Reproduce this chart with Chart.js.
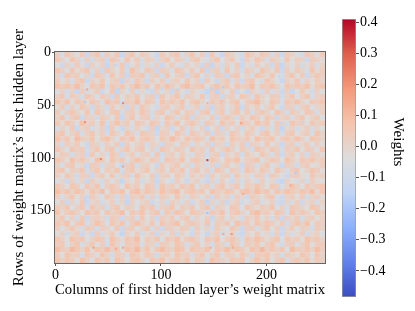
<!DOCTYPE html>
<html>
<head>
<meta charset="utf-8">
<script src="https://cdn.jsdelivr.net/npm/chart.js@4"></script>
<style>
    body { margin: 0; background: #fff; }
    #wrap { position: relative; width: 415px; height: 311px; overflow: hidden; }
    canvas { position: absolute; top: 0; }
    #heat { left: 0; }
    #bar { left: 330px; }
</style>
</head>
<body>
<div id="wrap">
    <canvas id="heat" width="330" height="311"></canvas>
    <canvas id="bar" width="85" height="311"></canvas>
</div>
<script>
// the real matrix is 200 x 256, too fine to read: these are block estimates by eye, in hundredths
const blockWeights = [
    [ 3,-4, 5, 1,-2, 4,-6, 2, 6,-5, 3,-1, 5,-7, 2, 6,-2, 4, 1,-3,-6, 4,-1, 3, 5,-4, 1, 6,-2, 3,-6, 5,-3,-7, 4, 1,-3,-5, 6, 2,-1, 5, 3,-4, 2,-6, 4, 1,-3,-5, 5, 2,-2, 4],
    [ 5, 1,-3, 6, 2,-4, 3,-5, 1, 4,-6, 5, 2,-3, 6,-1, 4,-4, 3, 1,-5, 2, 6,-2, 4, 1,-5, 3, 5,-1,-4, 2, 6,-3, 1, 5,-2,-6, 3,-1, 6, 2,-4, 4, 1,-3, 5,-2, 3, 1,-6, 4, 2,-1],
    [-2,-6, 2,-4, 4,-1,-7, 3,-3, 2,-8, 1,-4, 5,-6,-2, 3,-5, 0,-4, 2,-7,-1, 4,-3,-5, 2,-2, 1,-6, 3,-8, 0,-5, 2,-3, 4,-7,-1,-4, 3,-2, 1,-6, 4,-8, 0,-3, 2,-5,-1, 3,-4, 1],
    [ 6, 2,-3, 5,-1, 3, 6,-4, 2,-6, 5, 1,-2, 4,-5, 7, 1,-3, 5, 2,-6, 3, 1,-4, 6, 2,-1, 4,-3, 5,-7, 1, 3,-4, 6,-2, 2,-5, 4, 1,-3, 6, 2,-1, 5,-6, 3,-2, 4, 1,-4, 6,-1, 3],
    [ 1,-5, 6, 2, 4,-3, 1,-6, 5, 2,-4, 6,-1, 3,-7, 4, 2, 6,-4, 1, 3,-5, 5,-2, 1, 4,-6, 2, 6,-3, 1,-5, 4, 2,-6, 3, 5,-2, 1,-4, 6, 3,-1, 5,-3,-5, 2, 6,-2, 4,-6, 1, 5, 2],
    [ 4,-2, 1,-5, 3, 6,-7, 2,-1, 5,-3, 1, 4,-8, 2,-4, 5, 1,-6, 3,-2, 4,-5, 1, 3,-3, 5,-1, 2,-6, 4,-2,-7, 1, 5,-4, 2,-6, 3, 5,-2,-4, 6, 1,-3,-7, 2,-1, 5,-4, 2,-2, 4, 1],
    [ 7, 3, 6, 2, 8, 1,-3, 6, 3, 7,-4, 5, 2, 6,-1, 4, 8, 2, 5,-2, 6, 1, 7, 3,-1, 5, 8, 2, 4, 6,-3, 3, 7, 1, 5,-1, 6, 2, 4, 8,-2, 5, 3, 7, 1,-3, 6, 2, 5, 3, 7,-1, 4, 6],
    [-3, 2,-5, 1,-7, 3,-4,-1, 4,-6,-2, 5,-8, 1,-3, 3,-5, 0,-4,-6, 2,-3, 1,-7, 4,-2,-5, 2,-1,-4,-8, 3,-9, 1,-3, 4,-6,-2,-7, 2,-1,-5, 3,-4, 0,-6, 2,-7,-3, 4,-1,-5, 2,-2],
    [ 2, 5,-4, 3, 1,-5, 6, 2,-3, 4, 1,-6, 5,-2, 3, 1, 6,-3, 2, 4,-6, 5,-1, 2, 6,-4, 3, 1,-2, 5,-5, 2, 4,-6, 1, 3,-3, 5, 2,-4, 6, 1,-2, 4, 3,-5, 1, 5,-3, 2, 6,-4, 1, 3],
    [ 6, 1, 7,-2, 5, 3,-1, 6, 2,-4, 7, 3, 5,-5, 4, 2, 8,-1, 5, 3,-4, 6, 2, 5, 1, 7,-2, 4, 6, 1,-3, 5, 2, 7,-1, 4, 6,-3, 3, 5, 8, 1,-2, 6, 3,-4, 5, 2, 7, 1,-3, 5, 3, 6],
    [-1, 4,-5, 2,-3, 5, 1,-6, 3, 0,-5, 4,-2, 1,-6, 3,-4, 5, 1,-3,-5, 2, 4,-2, 1, 5,-4, 0, 3,-5, 2,-7, 1, 4,-3, 0, 5,-6, 2,-1, 4,-3, 1, 5,-2,-6, 3, 1,-4, 2, 5,-3, 0, 2],
    [ 4,-3, 2, 6, 1,-2, 5,-4, 6, 1,-3, 4, 6,-5, 2, 4,-1, 6, 2,-4, 3, 5,-3, 1, 6,-2, 4, 2,-5, 3, 6,-4, 1, 5,-3, 2, 6,-1, 4,-4, 2, 5, 1,-3, 6, 2,-5, 4, 1,-2, 5, 3,-4, 2],
    [ 1, 6,-4, 3, 5,-6, 2, 1,-5, 4, 2,-3, 5,-7, 1, 6,-3, 2, 4,-5, 1,-2, 6, 3,-4, 1, 5,-6, 2, 0,-3, 4,-6, 2, 5, 1,-5, 3,-1, 6, 3,-3, 5, 2,-6, 1, 4,-4, 2, 6,-2, 1, 5,-3],
    [ 5,-1, 6, 2,-3, 7, 1, 4,-2, 6,-5, 2, 7, 1, 4,-3, 5, 2,-1, 6, 3,-4, 5, 1, 7,-2, 3, 6, 1,-4, 5, 2,-3, 6, 1, 4,-2, 5, 3,-1, 7, 2, 5,-3, 4, 1,-5, 6, 2, 3,-2, 5, 1, 4],
    [-4, 1,-2, 4,-6, 0, 3,-5,-1, 2,-7, 3,-3,-6, 1,-4, 2,-1,-5, 3,-8, 0, 2,-6,-1, 4,-4, 1,-3, 2,-7,-2, 3,-6, 1,-3, 2,-5, 0, 4,-2,-6, 1,-4, 3,-8, 0, 2,-5,-1, 3,-4, 1,-2],
    [ 3, 6,-2, 1, 5,-4, 2, 6,-1, 3,-5, 5, 1,-3, 6, 2,-4, 5, 3, 1,-6, 4, 2,-2, 6, 1,-4, 5, 2,-1, 4,-6, 3, 1,-4, 6, 2,-2, 5, 1,-3, 4, 6,-1, 2,-5, 3, 5,-2, 1, 4,-4, 6, 1],
    [ 7, 2, 5,-1, 8, 3, 1, 6,-2, 4, 7, 1,-3, 5, 2, 7,-1, 4, 6, 2,-3, 5, 1, 8, 3,-1, 6, 2, 5, 3,-4, 7, 1, 4,-2, 6, 3, 1, 5,-1, 7, 2, 4, 6,-2, 3, 5, 1, 7, 2,-3, 6, 4, 1],
    [ 2,-5, 3, 0, 4,-2,-6, 3, 1,-4, 2,-1, 4,-7, 3,-2, 1, 4,-5, 2, 0,-6, 3, 1,-3, 4, 2,-5, 1,-2, 3,-6, 2, 0,-5, 3,-1, 4,-6, 2, 1,-3, 5,-2, 1,-7, 2, 3,-4, 0, 4,-3, 2,-1],
    [ 5, 1,-3, 6, 2, 4,-5, 1, 6,-2, 3, 5,-4, 2, 6,-1, 3, 5,-2, 1,-5, 6, 3,-1, 4, 2,-3, 6, 1, 3,-4, 5,-2, 1, 6, 2,-3, 4, 1,-5, 6, 3,-1, 5, 2,-4, 3, 1, 6,-2, 4, 2,-3, 5],
    [-1, 4, 2,-5, 1, 3,-6, 5,-2, 1,-4, 6, 2,-6, 0, 4,-3, 1, 3,-4, 5,-5, 1, 3,-2, 4,-1,-4, 3, 2,-5, 1, 4,-6, 2,-1, 3,-5, 4, 0,-2, 5, 1,-4, 3,-6, 1, 4,-3, 2,-5, 3, 1,-1],
    [ 6, 3,-1, 7, 2, 5, 1,-3, 7, 4,-2, 6, 1, 5,-3, 2, 7, 3,-1, 5, 2,-4, 6, 3, 1, 7,-2, 4, 5, 1,-4, 6, 2,-2, 5, 3, 7,-1, 2, 4, 6,-3, 1, 5, 3,-2, 7, 2,-1, 5, 3, 6, 1, 4],
    [ 1,-4, 3, 5,-2, 0,-6, 4, 2,-5, 1, 3,-3,-7, 2, 5,-4, 1, 3,-2,-6, 4,-1, 2, 5,-3, 1,-5, 3, 0,-4, 2,-6, 1, 4,-2, 0,-6, 3, 2,-4, 1, 5,-3, 0,-7, 3, 1,-5, 2, 4,-2,-1, 3],
    [ 4, 6,-2, 3, 1, 5,-5, 2, 6,-3, 4, 1, 6,-4, 3, 5,-1, 2, 6,-3, 1, 4,-2, 5, 1, 6,-3, 2, 5,-1, 3,-5, 6, 2,-3, 4, 1,-4, 6, 3,-1, 5, 2,-3, 6, 1,-4, 3, 5,-2, 1, 6, 3,-1],
    [ 2,-3, 5, 1,-5, 3, 2,-6, 1, 4,-2, 5,-4, 1, 3,-5, 6, 0,-2, 4,-6, 1, 3,-3, 5, 1,-4, 3,-1, 2,-6, 4,-2, 1, 3,-5, 5,-1, 0,-4, 3, 2,-5, 4, 1,-3,-6, 2, 4,-1,-3, 5, 0, 2],
    [-3, 0,-6, 2,-4, 1,-7, 3,-1,-5, 2,-3, 1,-8, 0,-2, 3,-5,-1, 2,-7, 1,-3,-5, 3,-1,-6, 0, 2,-4,-7, 1,-5, 3,-2,-6, 1,-4, 2,-1,-5, 3,-3, 0,-6,-8, 2,-2,-4, 1,-5, 3,-1,-2],
    [ 5, 2,-2, 6, 3,-3, 5, 1, 6,-4, 3, 5, 2,-3, 6, 1, 4,-2, 5, 3,-5, 6, 1, 4,-1, 5, 2, 6,-3, 1, 4,-4, 3, 6,-1, 2, 5,-3, 4, 1, 6, 2,-2, 5, 3,-4, 1, 6, 2,-3, 5, 1, 4, 6],
    [ 8, 3, 6, 1, 7, 4,-1, 6, 2, 8,-2, 5, 3, 7,-2, 5, 8, 1, 6, 3, 0, 7, 2, 5, 8,-1, 4, 6, 2, 5,-2, 7, 3, 1, 6, 4,-1, 5, 7, 2, 8, 3, 5,-1, 6, 2, 7, 4, 1, 6, 3, 8,-1, 5],
    [ 3,-4, 1, 5,-2, 2,-6, 4, 0,-3, 5, 1,-5, 2,-6, 3, 1, 5,-4, 2,-5, 3, 1,-2, 5, 0,-4, 3, 1,-3, 2,-6, 4,-1, 2,-5, 3, 0,-6, 4, 1,-2, 3, 5,-4,-6, 1, 3,-2, 4,-5, 1, 3,-1],
    [-2, 3,-6, 1,-3, 4,-7, 0, 2,-5,-1, 3,-4, 1,-8, 2,-3, 0, 3,-6,-2, 1,-5, 3, 0,-4, 2,-6,-1, 3,-7, 1,-4, 2,-6, 0, 3,-5,-2, 1, 4,-4,-1, 2,-5,-7, 1,-3, 3,-6, 0, 2,-4, 1],
    [ 4, 1, 6,-3, 2, 5,-4, 6, 1, 3,-5, 2, 6,-2, 4, 1,-3, 6, 2, 5,-4, 1, 3, 6,-2, 4, 1, 5,-3, 2, 6,-5, 3, 1,-2, 5, 4,-3, 6, 2,-1, 4, 1, 6,-3, 2,-5, 5, 3, 1,-2, 6, 4,-1],
    [ 7,-1, 4, 6, 2,-2, 7, 3, 5,-3, 6, 1, 4, 8,-3, 5, 2, 7,-1, 3, 6,-4, 5, 1, 7, 3,-2, 6, 4, 1,-4, 5, 2, 7,-2, 3, 6, 1,-3, 5, 8, 2, 4,-1, 6, 3,-4, 7, 1, 5, 2,-2, 6, 3],
    [ 1, 5,-3, 2,-5, 4,-6, 1, 3, 0,-5, 4, 2,-6, 1, 3,-4, 5,-2, 1,-6, 3, 0, 4,-3, 2, 5,-4, 1,-2, 3,-7, 1, 4,-3, 2,-1,-5, 3, 0, 5,-2, 1,-4, 3,-6, 2, 0, 4,-5, 1, 3,-2, 2],
    [ 5, 2, 7,-2, 4, 6,-4, 1, 7, 3,-3, 5, 1, 6,-4, 3, 7, 2,-1, 5,-3, 6, 1, 4, 7,-2, 3, 5, 2,-1, 6,-4, 3, 1, 5,-3, 7, 2, 4,-1, 6, 1, 5, 3,-2, 4,-5, 2, 6, 1, 7,-3, 4, 2],
    [ 3,-3, 1, 5, 0,-4, 4, 2,-5, 3, 1,-2, 5,-6, 2, 4,-3, 1, 5,-4, 2,-6, 3, 1,-1, 4, 2,-5, 3,-2, 1,-5, 4, 0,-3, 5, 1,-6, 2, 3,-4, 1, 5,-2, 3,-6, 0, 4,-3, 2, 1,-5, 4, 1],
    [-2, 2,-5, 0, 3,-6,-1,-7, 3,-4, 0, 4,-3,-8, 1,-2, 4,-5,-1, 2,-6, 0,-3, 3,-5, 1,-2,-6, 2,-3,-7, 0, 3,-5,-1, 2,-4,-7, 1,-2, 4,-3, 0,-5, 2,-7, 1,-4,-1, 3,-5, 0, 2,-3],
    [ 6, 2,-2, 7, 3, 5,-3, 1, 6, 4,-4, 7, 2,-1, 5, 3, 8,-2, 4, 1, 6,-3, 5, 2, 7,-1, 4, 6, 1,-3, 5, 2, 7,-2, 3, 6, 1,-4, 5, 2, 7, 4,-1, 3, 6,-3, 5, 1, 4,-2, 7, 3, 5, 1],
    [ 3, 5,-3, 2, 6,-4, 1, 5,-2, 3,-5, 6, 1,-3, 4, 2, 5,-4, 3, 1,-5, 4, 2,-1, 6, 3,-4, 1, 5,-2, 2,-5, 4, 1,-4, 6, 2,-3, 4, 1, 5,-2, 3, 6,-1,-5, 2, 4,-3, 1, 6,-2, 3, 4],
    [ 8, 4, 2, 9, 5, 1, 7,-1, 6, 3, 8, 2, 5,-2, 7, 4, 9, 1, 6,-1, 5, 8, 3, 1, 7, 5,-1, 6, 4, 2, 7,-2, 5, 3, 8, 1, 6, 4,-1, 7, 3, 9, 2, 5, 1, 6,-3, 8, 4, 2, 6, 1, 8, 3],
    [ 4,-2, 6, 1, 3,-4, 5, 2,-3, 6, 1,-5, 4, 2,-4, 6, 3,-1, 5, 2,-5, 1, 4,-2, 6, 1, 3,-4, 2, 5,-3, 1, 6,-4, 3, 2,-2, 5, 1,-5, 4, 3, 6,-1, 2,-5, 4, 1,-2, 6, 3,-3, 5, 1],
    [ 6, 1, 5, 3,-2, 7, 2,-3, 6, 1, 5,-4, 7, 3,-2, 4, 6, 1,-3, 5, 2, 7,-1, 3, 5, 1, 6,-2, 4, 2,-4, 7, 3, 1,-1, 5, 4, 6,-3, 2, 7, 1, 5,-2, 3, 6,-4, 2, 5, 1, 6,-1, 4, 2]
];

// single cells that stand out from the noise
const hotCols = [64,28,28,60,70,87,101,116,64,57,30,148,159,142,212,223,176,214,235,159,144,43,28,64,64,35,28,43,36,64,57,98,111,144,228,212,223,144,144,144,167,159,178,167,147,168,223,184];
const hotRows = [48,66,47,35,35,35,35,35,73,12,35,34,33,22,23,35,67,67,66,48,48,101,108,108,114,114,139,134,185,185,186,142,152,102,114,129,126,141,152,164,172,172,134,129,185,185,142,141];
const hotValues = [22,20,-18,-15,-12,-12,-14,-15,-14,-12,15,-16,-18,-12,-12,-14,16,-14,-12,-13,12,22,-14,14,-14,-12,-15,-13,16,15,14,-10,-11,34,-18,-14,14,-16,-20,-13,18,14,14,-13,13,14,-12,-9];

const numCols = 256;
const numRows = 200;
const xTicks = [0, 100, 200];
const yTicks = [0, 50, 100, 150];
const barTicks = [-0.4, -0.3, -0.2, -0.1, 0, 0.1, 0.2, 0.3, 0.4];
const barMin = -0.484;
const barMax = 0.41;
const coolwarm = [[59,76,192],[98,130,234],[141,176,254],[192,212,245],[221,221,221],[245,196,173],[244,152,122],[222,96,77],[180,4,38]];

const serif = "'Liberation Serif', 'Times New Roman', serif";

function weightColor(v) {
    const t = Math.min(1, Math.max(0, (v - barMin) / (barMax - barMin))) * (coolwarm.length - 1);
    const i = Math.min(coolwarm.length - 2, Math.floor(t));
    const f = t - i;
    const c = coolwarm[i].map((a, k) => Math.round(a + (coolwarm[i + 1][k] - a) * f));
    return `rgb(${c[0]},${c[1]},${c[2]})`;
}

const blockPoints = [];
blockWeights.forEach((row, r) => {
    row.forEach((v, c) => {
        blockPoints.push({
            x: (c + 0.5) * numCols / row.length - 0.5,
            y: (r + 0.5) * numRows / blockWeights.length - 0.5,
            // the blue side of the map needs a stronger push than the red one to read the same
            v: (v < 0 ? v * 1.6 : v * 1.1) / 100,
        });
    });
});
const hotPoints = hotCols.map((c, i) => ({ x: c, y: hotRows[i], v: hotValues[i] / 100 }));

const framePlugin = {
    id: "frame",
    afterDatasetsDraw(chart) {
        const a = chart.chartArea;
        const ctx = chart.ctx;
        ctx.save();
        ctx.strokeStyle = "#666";
        ctx.lineWidth = 1;
        ctx.strokeRect(a.left - 0.5, a.top - 0.5, a.right - a.left + 1, a.bottom - a.top + 1);
        ctx.restore();
    },
};

new Chart(document.getElementById("heat").getContext("2d"), {
    type: "scatter",
    plugins: [framePlugin],
    data: {
        datasets: [
            {
                data: hotPoints,
                order: 0,
                pointStyle: "rect",
                pointRadius: 1.5,
                pointBorderWidth: 0,
                pointBackgroundColor: (c) => weightColor(c.raw ? c.raw.v : 0),
            },
            {
                data: blockPoints,
                order: 1,
                pointStyle: "rect",
                pointRadius: 3.95,
                pointBorderWidth: 0,
                pointBackgroundColor: (c) => weightColor(c.raw ? c.raw.v : 0),
            },
        ],
    },
    options: {
        responsive: false,
        animation: false,
        layout: { padding: { left: 10, top: 52, right: 5, bottom: 12 } },
        plugins: { legend: { display: false }, tooltip: { enabled: false } },
        scales: {
            x: {
                type: "linear",
                min: -0.5,
                max: numCols - 0.5,
                afterBuildTicks: (s) => { s.ticks = xTicks.map((v) => ({ value: v })); },
                afterFit: (s) => { s.height = 36; },
                grid: { drawOnChartArea: false, drawTicks: true, tickLength: 3, color: "#555" },
                border: { display: false },
                ticks: { color: "#000", padding: 1, maxRotation: 0, font: { family: serif, size: 14 } },
                title: {
                    display: true,
                    text: "Columns of first hidden layer\u2019s weight matrix",
                    color: "#000",
                    padding: { top: 0, bottom: 0 },
                    font: { family: serif, size: 15.2 },
                },
            },
            y: {
                type: "linear",
                reverse: true,
                min: -0.5,
                max: numRows - 0.5,
                afterBuildTicks: (s) => { s.ticks = yTicks.map((v) => ({ value: v })); },
                afterFit: (s) => { s.width = 45; },
                grid: { drawOnChartArea: false, drawTicks: true, tickLength: 3, color: "#555" },
                border: { display: false },
                ticks: { color: "#000", padding: 1, font: { family: serif, size: 14 } },
                title: {
                    display: true,
                    text: "Rows of weight matrix\u2019s first hidden layer",
                    color: "#000",
                    padding: { top: 0, bottom: 0 },
                    font: { family: serif, size: 15.2 },
                },
            },
        },
    },
});

const weightsLabel = {
    id: "weightsLabel",
    afterDraw(chart) {
        const ctx = chart.ctx;
        ctx.save();
        ctx.translate(68, 142);
        ctx.rotate(Math.PI / 2);
        ctx.textAlign = "center";
        ctx.textBaseline = "middle";
        ctx.fillStyle = "#000";
        ctx.font = `15px ${serif}`;
        ctx.fillText("Weights", 0, 0);
        ctx.restore();
    },
};

new Chart(document.getElementById("bar").getContext("2d"), {
    type: "bar",
    plugins: [weightsLabel],
    data: {
        labels: ["Weights"],
        datasets: [
            {
                data: [[barMin, barMax]],
                barPercentage: 1,
                categoryPercentage: 1,
                borderWidth: 1,
                borderSkipped: false,
                borderColor: "#999",
                backgroundColor: (c) => {
                    const y = c.chart.scales.y;
                    if (!c.chart.chartArea) return "#ddd";
                    const g = c.chart.ctx.createLinearGradient(0, y.getPixelForValue(barMin), 0, y.getPixelForValue(barMax));
                    coolwarm.forEach((rgb, i) => {
                        g.addColorStop(i / (coolwarm.length - 1), `rgb(${rgb[0]},${rgb[1]},${rgb[2]})`);
                    });
                    return g;
                },
            },
        ],
    },
    options: {
        responsive: false,
        animation: false,
        layout: { padding: { left: 12, top: 19, right: 0, bottom: 14 } },
        plugins: { legend: { display: false }, tooltip: { enabled: false } },
        scales: {
            x: { display: false },
            y: {
                position: "right",
                min: barMin,
                max: barMax,
                afterBuildTicks: (s) => { s.ticks = barTicks.map((v) => ({ value: v })); },
                afterFit: (s) => { s.width = 59; },
                grid: { drawOnChartArea: false, drawTicks: true, tickLength: 3, color: "#555" },
                border: { display: false },
                ticks: {
                    color: "#000",
                    padding: 1,
                    font: { family: serif, size: 14 },
                    callback: (v) => (v < 0 ? "\u2212" : "") + Math.abs(v).toFixed(1),
                },
            },
        },
    },
});
</script>
</body>
</html>
